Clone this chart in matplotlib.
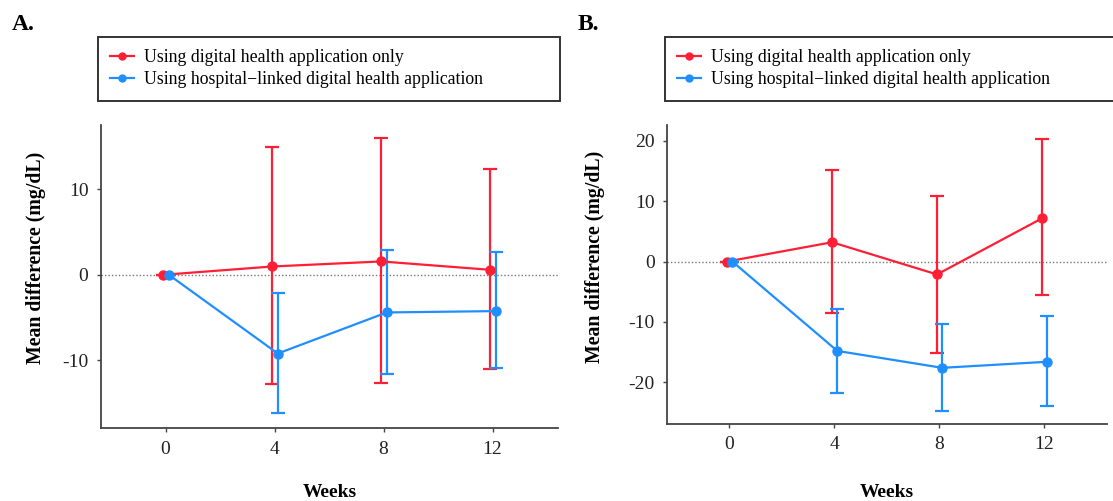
import matplotlib
matplotlib.use('Agg')
import matplotlib.pyplot as plt
from matplotlib.lines import Line2D
import numpy as np

# Данные: недели и средние разности (mg/dL) с границами доверительных интервалов
weeks = [0, 4, 8, 12]

# Панель A
a_red_mean = [0, 0.97, 1.56, 0.58]
a_red_low = [0, -12.8, -12.7, -11.0]
a_red_high = [0, 14.9, 15.95, 12.4]
a_blue_mean = [0, -9.2, -4.4, -4.24]
a_blue_low = [0, -16.15, -11.56, -10.9]
a_blue_high = [0, -2.14, 2.84, 2.65]

# Панель B
b_red_mean = [0, 3.19, -2.14, 7.14]
b_red_low = [0, -8.6, -15.1, -5.55]
b_red_high = [0, 15.2, 10.8, 20.2]
b_blue_mean = [0, -14.8, -17.6, -16.6]
b_blue_low = [0, -21.8, -24.7, -23.9]
b_blue_high = [0, -7.8, -10.4, -9.07]

label_red = 'Using digital health application only'
label_blue = 'Using hospital\u2212linked digital health application'

RED = '#ff1f35'
BLUE = '#1f8fff'

plt.rcParams['font.family'] = ['Liberation Serif', 'DejaVu Serif']
plt.rcParams['axes.unicode_minus'] = False

fig = plt.figure(figsize=(11.13, 5.01), dpi=100)


def draw_panel(ax, red, blue, ylim, yticks, ylab_x, xlab_y):
    for (mean, low, high), color, shift in [(red, RED, -0.08), (blue, BLUE, 0.12)]:
        mean = np.array(mean)
        err = [mean - np.array(low), np.array(high) - mean]
        x = np.array(weeks) + shift
        ax.errorbar(x, mean, yerr=err, color=color, lw=1.6, elinewidth=1.6,
                    capsize=5, capthick=1.6, marker='o', markersize=6.5, zorder=3)
    ax.axhline(0, color='#777777', lw=1, ls=(0, (1, 1.5)), zorder=1)
    ax.set_xlim(-2.37, 14.4)
    ax.set_ylim(*ylim)
    ax.set_xticks(weeks)
    ax.set_yticks(yticks)
    for s in ['top', 'right']:
        ax.spines[s].set_visible(False)
    for s in ['left', 'bottom']:
        ax.spines[s].set_color('#444444')
        ax.spines[s].set_linewidth(1.3)
    ax.tick_params(length=3, width=1, color='#444444', labelsize=14,
                   labelcolor='#222222', pad=6)
    ax.set_ylabel('Mean difference (mg/dL)', fontsize=14.3, fontweight='bold')
    ax.set_xlabel('Weeks', fontsize=14, fontweight='bold')
    ax.yaxis.set_label_coords(ylab_x, 0.56)
    ax.xaxis.set_label_coords(0.5, xlab_y)


# Панель A
axA = fig.add_axes([0.0907, 0.1457, 0.4106, 0.6048])
draw_panel(axA, (a_red_mean, a_red_low, a_red_high),
           (a_blue_mean, a_blue_low, a_blue_high),
           (-17.9, 17.5), [-10, 0, 10], -0.12, -0.185)

# Панель B
axB = fig.add_axes([0.5993, 0.1537, 0.3953, 0.5968])
draw_panel(axB, (b_red_mean, b_red_low, b_red_high),
           (b_blue_mean, b_blue_low, b_blue_high),
           (-26.9, 22.6), [-20, -10, 0, 10, 20], -0.14, -0.2)

# Легенды в рамках над графиками
handles = [Line2D([], [], color=RED, lw=1.6, marker='o', markersize=5),
           Line2D([], [], color=BLUE, lw=1.6, marker='o', markersize=5)]
for ax, x0, x1 in [(axA, 98, 560), (axB, 665, 1125)]:
    leg = ax.legend(handles, [label_red, label_blue], loc='upper left', mode='expand',
                    bbox_to_anchor=(x0 / 1113, 1 - 100 / 501, (x1 - x0) / 1113, 63 / 501),
                    bbox_transform=fig.transFigure, borderaxespad=0,
                    fontsize=12.8, frameon=True, fancybox=False, edgecolor='black',
                    handlelength=1.3, handletextpad=0.6, labelspacing=0.28,
                    borderpad=0.7)
    leg.get_frame().set_linewidth(1.4)

fig.text(12 / 1113, 1 - 25 / 501, 'A.', fontsize=17, fontweight='bold', va='center')
fig.text(578 / 1113, 1 - 25 / 501, 'B.', fontsize=17, fontweight='bold', va='center')

fig.savefig('out.png', dpi=100)
